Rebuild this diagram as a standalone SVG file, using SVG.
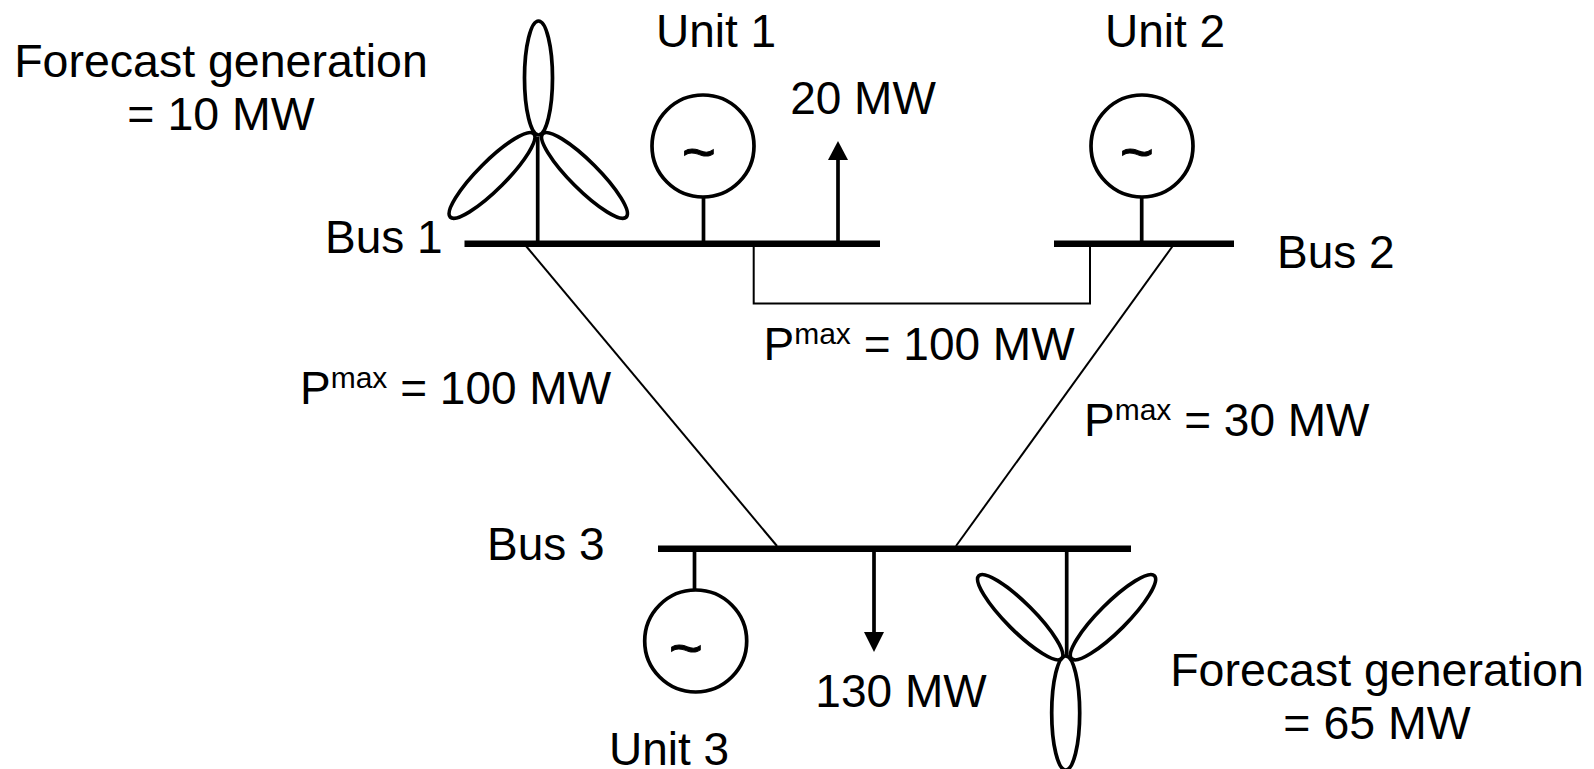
<svg xmlns="http://www.w3.org/2000/svg" width="1594" height="769" viewBox="0 0 1594 769">
<style>
text{font-family:"Liberation Sans",Arial,sans-serif;font-size:46px;fill:#000}
.f{font-size:46.5px}
.sup{font-size:30px}
.m{text-anchor:middle}
.t{font-size:58px;stroke:#000;stroke-width:1}
.bus{stroke:#000;stroke-width:6.5;fill:none}
.stem{stroke:#000;stroke-width:3.7;fill:none}
.line{stroke:#000;stroke-width:2;fill:none}
.b{stroke:#000;stroke-width:3.7;fill:none}
</style>
<rect width="1594" height="769" fill="#fff"/>
<g id="connectors">
<path class="line" d="M753.7 246V303.5H1090V246"/>
<path class="line" d="M526 246L777 546"/>
<path class="line" d="M1172.7 246L956 546"/>
<path class="stem" d="M838 243V158"/><path d="M838 141L848 160H828Z"/>
<path class="stem" d="M874 549V634"/><path d="M874 652L864 632H884Z"/>
</g>
<g id="bus1"><path class="bus" d="M464.5 243.7H880"/><text x="325" y="253">Bus 1</text></g>
<g id="bus2"><path class="bus" d="M1054 243.7H1234"/><text x="1277" y="268">Bus 2</text></g>
<g id="bus3"><path class="bus" d="M658 548.7H1131"/><text x="487" y="560">Bus 3</text></g>
<g id="wind1">
<path class="stem" d="M537.7 137V241"/>
<ellipse class="b" cx="538.5" cy="78" rx="14" ry="57"/>
<ellipse class="b" cx="492" cy="175.4" rx="14" ry="59" transform="rotate(45 492 175.4)"/>
<ellipse class="b" cx="584.5" cy="175.4" rx="14" ry="59" transform="rotate(-45 584.5 175.4)"/>
<text class="m f" x="221" y="77">Forecast generation</text>
<text class="m f" x="221" y="130">= 10 MW</text>
</g>
<g id="unit1">
<path class="stem" d="M703.5 197V241"/>
<circle class="b" cx="703" cy="146" r="51"/>
<text class="m t" x="699" y="172">~</text>
<text class="m" x="716" y="47">Unit 1</text>
</g>
<g id="load1"><text class="m" x="863" y="114">20 MW</text></g>
<g id="unit2">
<path class="stem" d="M1141.7 197V241"/>
<circle class="b" cx="1142" cy="146" r="51"/>
<text class="m t" x="1137" y="172">~</text>
<text class="m" x="1165" y="47">Unit 2</text>
</g>
<g id="unit3">
<path class="stem" d="M694.5 552V590"/>
<circle class="b" cx="695.7" cy="641" r="51"/>
<text class="m t" x="686" y="668">~</text>
<text class="m" x="669" y="765">Unit 3</text>
</g>
<g id="load3"><text class="m" x="901" y="707">130 MW</text></g>
<g id="wind3">
<path class="stem" d="M1066.7 552V656"/>
<ellipse class="b" cx="1065.7" cy="713" rx="14" ry="57"/>
<ellipse class="b" cx="1020.2" cy="617.2" rx="14" ry="58.6" transform="rotate(-45 1020.2 617.2)"/>
<ellipse class="b" cx="1113" cy="617.2" rx="14" ry="58.6" transform="rotate(45 1113 617.2)"/>
<text class="m f" x="1377" y="686">Forecast generation</text>
<text class="m f" x="1377" y="739">= 65 MW</text>
</g>
<g id="labels">
<text x="763.5" y="360">P<tspan class="sup" dy="-16">max</tspan><tspan dy="16"> = 100 MW</tspan></text>
<text x="300" y="404">P<tspan class="sup" dy="-16">max</tspan><tspan dy="16"> = 100 MW</tspan></text>
<text x="1084" y="436">P<tspan class="sup" dy="-16">max</tspan><tspan dy="16"> = 30 MW</tspan></text>
</g>
</svg>
